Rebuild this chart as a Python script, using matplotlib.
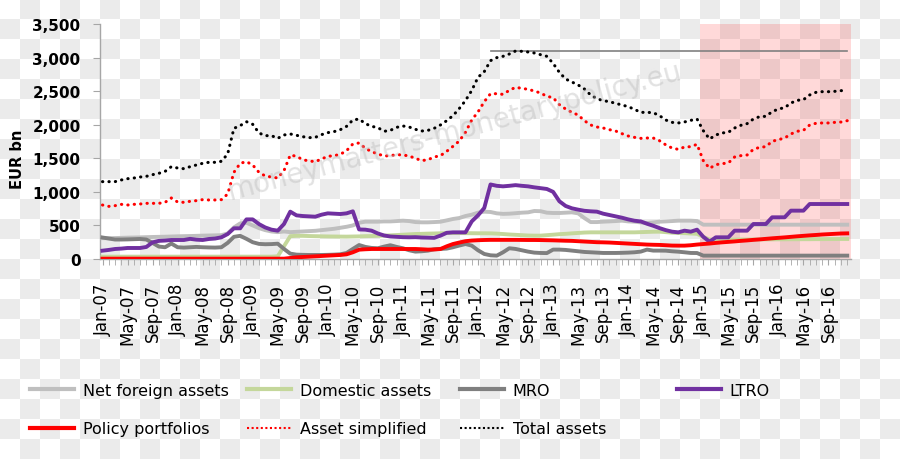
import numpy as np
import pandas as pd
import matplotlib
matplotlib.use("Agg")
import matplotlib.pyplot as plt
from matplotlib.lines import Line2D

# monthly data, Jan-07 .. Dec-16, EUR bn
months = pd.date_range("2007-01-01", periods=120, freq="MS").strftime("%b-%y").tolist()

net_foreign = [310, 310, 312, 315, 318, 320, 322, 325, 328, 330,
               332, 335, 338, 340, 342, 345, 348, 350, 352, 355,
               380, 470, 530, 540, 500, 460, 430, 410, 400, 410,
               400, 405, 410, 415, 420, 430, 440, 450, 465, 480,
               500, 540, 556, 556, 556, 560, 560, 565, 571, 565,
               550, 546, 546, 550, 555, 575, 596, 610, 640, 660,
               690, 705, 700, 680, 672, 675, 682, 690, 695, 715,
               712, 690, 685, 685, 690, 695, 680, 610, 550, 550,
               556, 560, 565, 571, 560, 556, 545, 536, 545, 556,
               560, 565, 571, 571, 571, 565, 511, 511, 511, 511,
               511, 511, 511, 511, 511, 511, 511, 511, 511, 511,
               511, 511, 511, 511, 511, 511, 511, 511, 511, 511]

domestic = [35, 35, 35, 35, 35, 35, 35, 35, 35, 35,
            35, 35, 35, 35, 35, 35, 35, 35, 35, 35,
            35, 35, 35, 35, 35, 35, 35, 35, 40, 190,
            340, 345, 345, 342, 340, 338, 336, 335, 334, 333,
            335, 337, 340, 342, 345, 348, 352, 357, 362, 367,
            372, 375, 378, 380, 383, 387, 387, 386, 385, 384,
            383, 383, 382, 378, 372, 365, 360, 355, 350, 348,
            348, 355, 362, 370, 375, 382, 388, 394, 397, 397,
            397, 397, 397, 397, 397, 397, 400, 403, 406, 407,
            400, 392, 387, 385, 380, 375, 330, 290, 288, 288,
            289, 289, 290, 290, 291, 291, 292, 292, 293, 293,
            294, 294, 295, 295, 296, 296, 297, 297, 298, 298]

mro = [320, 305, 290, 290, 292, 295, 298, 290, 240, 185,
       175, 230, 175, 170, 175, 180, 175, 172, 170, 175,
       240, 330, 345, 300, 250, 225, 220, 222, 228, 150,
       80, 65, 62, 60, 60, 60, 62, 65, 70, 90,
       150, 208, 180, 165, 160, 185, 205, 180, 160, 130,
       110, 115, 124, 145, 150, 155, 175, 200, 223, 199,
       130, 75, 55, 50, 100, 160, 150, 130, 110, 95,
       90, 88, 140, 140, 135, 125, 115, 105, 100, 95,
       90, 90, 90, 92, 95, 100, 110, 140, 125, 125,
       124, 115, 109, 100, 90, 89, 50, 50, 50, 50,
       50, 50, 50, 50, 50, 50, 50, 50, 50, 50,
       50, 50, 50, 50, 50, 50, 50, 50, 50, 50]

ltro = [124, 135, 149, 155, 164, 164, 164, 179, 248, 270,
        275, 283, 283, 283, 300, 288, 283, 298, 305, 323,
        372, 457, 457, 590, 590, 520, 470, 437, 422, 521,
        705, 650, 640, 635, 630, 660, 680, 675, 670, 680,
        710, 440, 437, 422, 380, 350, 335, 330, 325, 323,
        325, 320, 318, 315, 348, 390, 397, 397, 397, 560,
        650, 760, 1110, 1090, 1082, 1090, 1100, 1090, 1082, 1067,
        1055, 1043, 1000, 860, 790, 755, 735, 718, 710, 705,
        675, 655, 635, 615, 590, 570, 560, 525, 495, 460,
        430, 407, 397, 422, 407, 437, 330, 258, 323, 323,
        323, 422, 422, 422, 521, 521, 521, 621, 621, 621,
        720, 720, 720, 819, 819, 819, 819, 819, 819, 819]

policy = [5, 5, 5, 5, 5, 5, 5, 5, 5, 5,
          5, 5, 5, 5, 5, 5, 5, 5, 5, 5,
          5, 5, 5, 5, 5, 5, 5, 5, 5, 5,
          15, 25, 30, 35, 40, 45, 50, 55, 60, 70,
          100, 139, 145, 149, 149, 149, 149, 149, 149, 149,
          149, 145, 140, 142, 149, 189, 223, 245, 265, 275,
          280, 283, 285, 285, 285, 285, 285, 284, 283, 283,
          282, 280, 278, 275, 272, 270, 265, 260, 255, 250,
          248, 245, 240, 235, 230, 225, 220, 215, 212, 210,
          205, 200, 199, 199, 205, 215, 223, 230, 240, 248,
          255, 262, 270, 277, 285, 292, 300, 308, 315, 322,
          330, 338, 345, 352, 358, 365, 370, 375, 380, 382]

asset_simplified = [804, 784, 794, 814, 804, 814, 819, 829, 829, 829,
                    844, 909, 849, 844, 859, 869, 884, 879, 879, 884,
                    968, 1291, 1425, 1450, 1400, 1291, 1236, 1221, 1206, 1316,
                    1549, 1529, 1479, 1460, 1450, 1489, 1529, 1539, 1559, 1614,
                    1713, 1728, 1648, 1599, 1564, 1534, 1539, 1554, 1549, 1534,
                    1499, 1465, 1479, 1519, 1539, 1604, 1678, 1757, 1887, 2070,
                    2190, 2343, 2462, 2462, 2452, 2512, 2557, 2542, 2527, 2502,
                    2472, 2423, 2403, 2299, 2234, 2184, 2145, 2060, 1996, 1966,
                    1951, 1926, 1906, 1867, 1832, 1812, 1797, 1802, 1802, 1762,
                    1700, 1653, 1633, 1668, 1673, 1708, 1465, 1350, 1405, 1420,
                    1430, 1519, 1539, 1549, 1633, 1663, 1673, 1753, 1777, 1802,
                    1862, 1902, 1916, 1996, 2021, 2026, 2026, 2035, 2040, 2060]

total_assets = [1152, 1152, 1152, 1177, 1196, 1206, 1221, 1231, 1256, 1276,
                1305, 1375, 1355, 1345, 1375, 1400, 1425, 1440, 1440, 1455,
                1564, 1946, 1986, 2045, 2006, 1877, 1837, 1837, 1797, 1847,
                1862, 1842, 1822, 1807, 1812, 1852, 1882, 1897, 1926, 1976,
                2070, 2085, 2016, 1976, 1956, 1902, 1916, 1961, 1981, 1966,
                1931, 1906, 1916, 1946, 1996, 2060, 2135, 2240, 2360, 2510,
                2706, 2790, 2954, 2999, 3019, 3053, 3098, 3093, 3083, 3068,
                3043, 3019, 2914, 2780, 2681, 2636, 2592, 2532, 2443, 2388,
                2358, 2343, 2318, 2294, 2269, 2229, 2184, 2184, 2179, 2135,
                2070, 2035, 2026, 2041, 2065, 2085, 1911, 1787, 1847, 1877,
                1887, 1951, 1991, 2016, 2085, 2120, 2125, 2194, 2234, 2254,
                2323, 2363, 2373, 2443, 2482, 2492, 2492, 2497, 2507, 2512]

peak_level = 3100
peak_from = 62          # Mar-12
shade_from = 95.45      # QE period, Jan-15 onwards

x = np.arange(len(months))

fig = plt.figure(figsize=(9, 4.6), dpi=100)

# checkerboard background (transparency pattern of the source image)
rr = np.arange(460)[:, None] // 20
cc = np.arange(900)[None, :] // 20
bg = np.where((rr + cc) % 2 == 1, 0.925, 1.0)
fig.figimage(np.dstack([bg, bg, bg]), xo=0, yo=0, zorder=-10)
fig.patch.set_alpha(0)

ax = fig.add_axes([100/900, 200/460, 751/900, 235/460])
ax.set_zorder(5)
ax.patch.set_alpha(0)

ax.axvspan(shade_from, 119.6, color="red", alpha=0.15, lw=0, zorder=1)

lw = 2.8
dots = (0, (0.1, 2.0))
ax.plot(x, net_foreign, color="#bfbfbf", lw=lw, label="Net foreign assets", zorder=3)
ax.plot(x, domestic, color="#c4d79b", lw=lw, label="Domestic assets", zorder=3)
ax.plot(x, mro, color="#7f7f7f", lw=lw, label="MRO", zorder=3)
ax.plot(x, ltro, color="#7030a0", lw=lw, label="LTRO", zorder=3)
ax.plot(x, policy, color="#ff0000", lw=lw, label="Policy portfolios", zorder=3)
ax.plot(x, asset_simplified, color="#ff0000", lw=2.2, ls=dots,
        dash_capstyle="round", label="Asset simplified", zorder=3)
ax.plot(x, total_assets, color="black", lw=2.2, ls=dots,
        dash_capstyle="round", label="Total assets", zorder=3)
ax.plot([peak_from, x[-1]], [peak_level, peak_level], color="#808080", lw=1.2, zorder=2)

ax.set_xlim(-0.4, 119.6)
ax.set_ylim(0, 3500)
ax.set_yticks(np.arange(0, 3501, 500))
ax.set_yticklabels([f"{v:,}" for v in range(0, 3501, 500)],
                   fontsize=11, fontweight="bold")
ax.set_xticks(x[::4])
ax.set_xticklabels(months[::4], rotation=90, fontsize=12)
ax.set_xticks(x, minor=True)
ax.tick_params(axis="x", which="both", length=4, color="#a6a6a6", pad=13)
ax.tick_params(axis="y", length=5, color="#a6a6a6", pad=9)

for s in ["top", "right"]:
    ax.spines[s].set_visible(False)
for s in ["left", "bottom"]:
    ax.spines[s].set_color("#a6a6a6")
    ax.spines[s].set_linewidth(1.0)

fig.text(18/900, 1 - 159/460, "EUR bn", rotation=90, fontsize=10.5,
         fontweight="bold", ha="center", va="center")

fig.text(455/900, 1 - 132/460, "moneymatters-monetarypolicy.eu", rotation=15,
         fontsize=20, color="#b8b8b8", alpha=0.4, ha="center", va="center",
         zorder=10)

# legend: four columns, Excel style
handles, labels = ax.get_legend_handles_labels()
lab_map = dict(zip(labels, handles))
columns = [["Net foreign assets", "Policy portfolios"],
           ["Domestic assets", "Asset simplified"],
           ["MRO", "Total assets"],
           ["LTRO"]]
col_x = [30, 247, 460, 677]
for cx, col in zip(col_x, columns):
    hs = []
    for name in col:
        h = lab_map[name]
        if h.get_linestyle() == "-":
            hs.append(Line2D([], [], color=h.get_color(), lw=3.0))
        else:
            hs.append(Line2D([], [], color=h.get_color(), lw=1.5, ls=(0, (1, 1.2))))
    fig.legend(hs, col, loc="upper left", bbox_to_anchor=(cx/900, 1 - 384/460),
               frameon=False, fontsize=11.5, borderpad=0, borderaxespad=0,
               handlelength=2.75, handletextpad=0.55, labelspacing=1.45)

fig.savefig("out.png", dpi=100)
